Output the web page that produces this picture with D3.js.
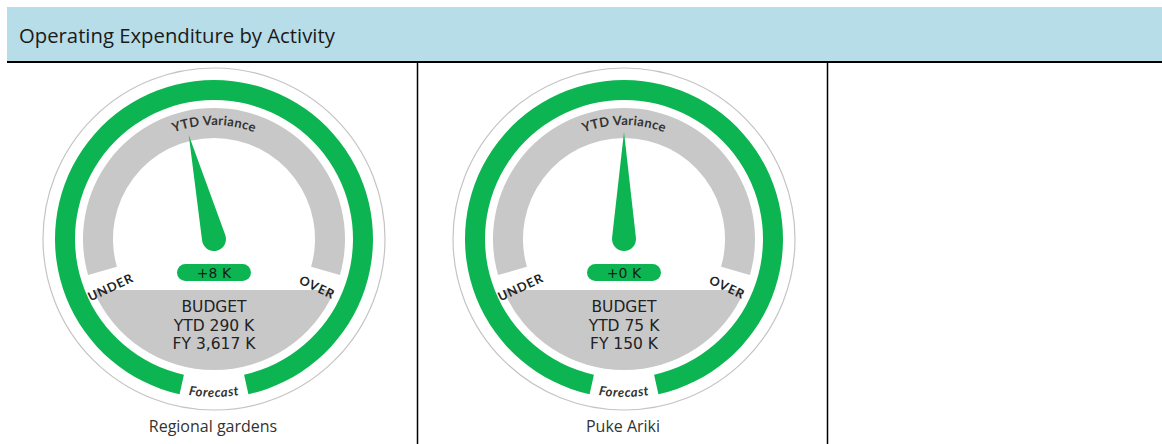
<!DOCTYPE html>
<html>
<head>
<meta charset="utf-8">
<script src="https://cdn.jsdelivr.net/npm/d3@7/dist/d3.min.js"></script>
<style>
  html, body { margin: 0; padding: 0; background: #fff; }
  svg { display: block; }
</style>
</head>
<body>
<svg id="chart" width="1162" height="444"></svg>
<script>
// ---- data ----
const title = "Operating Expenditure by Activity";
const activities = ["Regional gardens", "Puke Ariki"];
const varianceK = [8, 0];
const budgetYtdK = [290, 75];
const budgetFyK = [3617, 150];
const needlePosition = [-0.13, 0];   // needle reading on the UNDER (-1) .. OVER (+1) dial
const dialLabels = ["UNDER", "OVER"];
const dialTitle = "YTD Variance";
const ringLabel = "Forecast";
const panelCount = 3;

// ---- styles ----
const GREEN = "#0cb552";
const GRAY = "#c8c8c8";
const TEXT = "#222";

const W = 1162, H = 444;
const svg = d3.select("#chart");

// header
const headerTop = 7, headerBottom = 61, left = 7;
svg.append("rect").attr("x", left).attr("y", headerTop)
  .attr("width", W - left).attr("height", headerBottom - headerTop)
  .attr("fill", "#b7dde8");
svg.append("text").attr("x", 19).attr("y", 42.5)
  .attr("font-family", "'Open Sans', 'Noto Sans', sans-serif")
  .attr("font-size", 20.3).attr("fill", "#1a1a1a")
  .text(title);

// panel scale
const panelX = d3.scaleBand().domain(d3.range(panelCount)).range([left, 827 + (827 - 417) ]).padding(0);
svg.append("line").attr("x1", left).attr("x2", W).attr("y1", 62).attr("y2", 62)
  .attr("stroke", "#000").attr("stroke-width", 2);
[1, 2].forEach(i => {
  const x = Math.round(panelX(i)) + 0.5;
  svg.append("line").attr("x1", x).attr("x2", x).attr("y1", 62).attr("y2", H)
    .attr("stroke", "#000").attr("stroke-width", 1.5);
});

const rad = d => d * Math.PI / 180;
const needleAngle = d3.scaleLinear().domain([-1, 1]).range([-105, 105]);

const cy = 239;
const R_OUT = 171;
const ringOuter = 159, ringInner = 139;
const bandOuter = 131, bandInner = 101;
const chordY = 51;
const ringGap = 12.5;      // degrees either side of bottom
const bandEnd = 106;       // degrees from top

activities.forEach((name, i) => {
  const cx = panelX(i) + panelX.bandwidth() / 2 + 2;
  const g = svg.append("g").attr("transform", `translate(${cx},${cy})`);

  // outline
  g.append("circle").attr("r", R_OUT).attr("fill", "#fff")
    .attr("stroke", "#c4c4c4").attr("stroke-width", 1.2);

  // green forecast ring
  g.append("path")
    .attr("d", d3.arc().innerRadius(ringInner).outerRadius(ringOuter)
      .startAngle(Math.PI + rad(ringGap)).endAngle(3 * Math.PI - rad(ringGap))())
    .attr("fill", GREEN);

  // gray dial band
  g.append("path")
    .attr("d", d3.arc().innerRadius(bandInner).outerRadius(bandOuter)
      .startAngle(rad(-bandEnd)).endAngle(rad(bandEnd))())
    .attr("fill", GRAY);

  // bottom budget segment
  const phi = Math.asin(chordY / bandOuter);
  const p = d3.path();
  p.moveTo(bandOuter * Math.cos(phi), chordY);
  p.arc(0, 0, bandOuter, phi, Math.PI - phi, false);
  p.closePath();
  g.append("path").attr("d", p.toString()).attr("fill", GRAY);

  // dial title along top arc
  const tr = 114, ta = rad(70);
  const topId = `top-arc-${i}`;
  g.append("path").attr("id", topId).attr("fill", "none")
    .attr("d", `M${-tr * Math.sin(ta)},${-tr * Math.cos(ta)} A${tr},${tr} 0 0 1 ${tr * Math.sin(ta)},${-tr * Math.cos(ta)}`);
  g.append("text")
    .attr("font-family", "Lato, 'Open Sans', sans-serif").attr("font-weight", 700)
    .attr("font-size", 13).attr("letter-spacing", 0.3).attr("fill", "#333")
    .append("textPath").attr("href", `#${topId}`)
    .attr("startOffset", "50%").attr("text-anchor", "middle")
    .text(dialTitle);

  // Forecast along bottom
  const br = 158, ba = rad(40);
  const botId = `bot-arc-${i}`;
  g.append("path").attr("id", botId).attr("fill", "none")
    .attr("d", `M${-br * Math.sin(ba)},${br * Math.cos(ba)} A${br},${br} 0 0 0 ${br * Math.sin(ba)},${br * Math.cos(ba)}`);
  g.append("text")
    .attr("font-family", "Lato, 'Open Sans', sans-serif").attr("font-weight", 700)
    .attr("font-style", "italic")
    .attr("font-size", 13).attr("letter-spacing", 0.6).attr("fill", "#333")
    .append("textPath").attr("href", `#${botId}`)
    .attr("startOffset", "50%").attr("text-anchor", "middle")
    .text(ringLabel);

  // UNDER / OVER
  const lr = 114, la = rad(25);
  dialLabels.forEach((lab, k) => {
    const s = k === 0 ? -1 : 1;
    g.append("text")
      .attr("transform", `translate(${s * lr * Math.cos(la)},${lr * Math.sin(la)}) rotate(${s * 25})`)
      .attr("text-anchor", "middle").attr("dominant-baseline", "central")
      .attr("font-family", "Lato, 'Open Sans', sans-serif").attr("font-weight", 700)
      .attr("font-size", 12.5).attr("letter-spacing", 1).attr("fill", "#222")
      .text(lab);
  });

  // needle
  const L = 107, nr = 12;
  const alpha = Math.acos(nr / L);
  const needle = `M0,${-L} L${nr * Math.sin(alpha)},${-nr * Math.cos(alpha)} A${nr},${nr} 0 1 1 ${-nr * Math.sin(alpha)},${-nr * Math.cos(alpha)} Z`;
  g.append("path").attr("d", needle).attr("fill", GREEN)
    .attr("transform", `rotate(${needleAngle(needlePosition[i])})`);

  // variance pill
  g.append("rect").attr("x", -37).attr("y", 25).attr("width", 74).attr("height", 17)
    .attr("rx", 8.5).attr("fill", GREEN);
  const v = varianceK[i];
  g.append("text").attr("y", 33.5).attr("text-anchor", "middle").attr("dominant-baseline", "central")
    .attr("font-family", "'DejaVu Sans', sans-serif").attr("font-size", 14).attr("fill", "#1a1a1a")
    .text(`${v >= 0 ? "+" : ""}${v} K`);

  // budget lines
  const fmt = d3.format(",");
  const lines = ["BUDGET", `YTD ${fmt(budgetYtdK[i])} K`, `FY ${fmt(budgetFyK[i])} K`];
  g.selectAll("text.budget").data(lines).join("text").attr("class", "budget")
    .attr("y", (d, j) => 73 + j * 18.5)
    .attr("text-anchor", "middle")
    .attr("font-family", "'DejaVu Sans', sans-serif").attr("font-size", 15.5).attr("fill", TEXT)
    .text(d => d);

  // category label
  svg.append("text").attr("x", cx - 1).attr("y", 432).attr("text-anchor", "middle")
    .attr("font-family", "'Open Sans', 'Noto Sans', sans-serif").attr("font-size", 16)
    .attr("fill", "#333").text(name);
});
</script>
</body>
</html>
